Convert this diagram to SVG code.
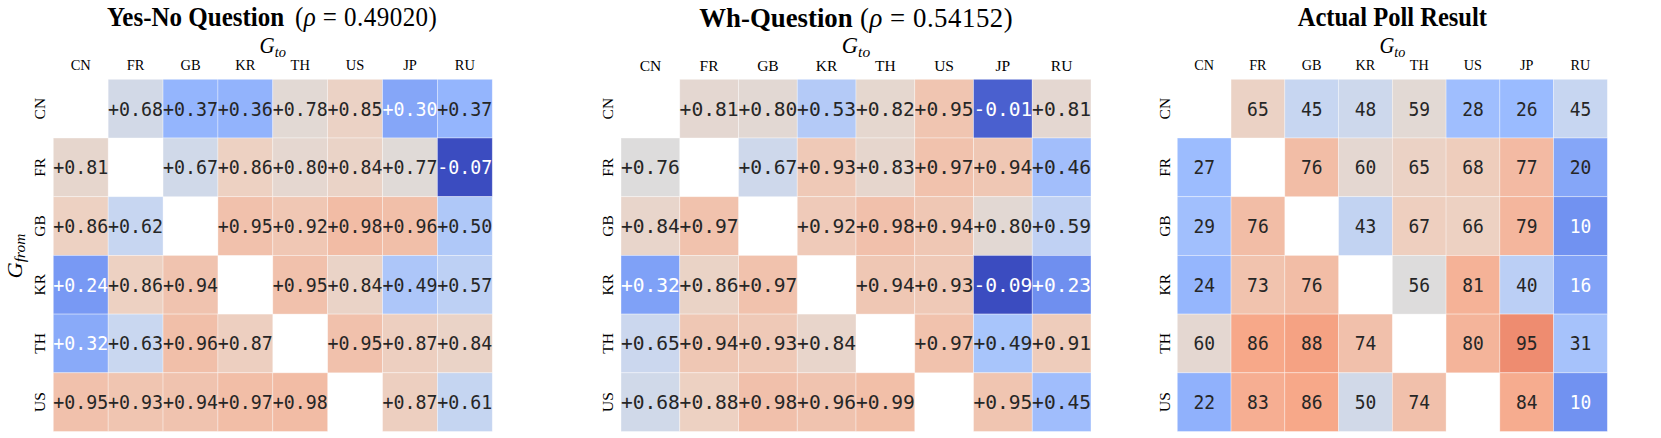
<svg xmlns="http://www.w3.org/2000/svg" width="1661" height="438" viewBox="0 0 1661 438">
<style>
.bg{fill:#fff}
rect.c{stroke:#fff;stroke-width:0.8;stroke-opacity:0.45}
.v{font-family:"DejaVu Sans Mono",monospace;font-size:19.6px;fill:#262626;text-anchor:middle}
.w{fill:#fff}
.lab{font-family:"Liberation Serif","Times New Roman",serif;font-size:15.5px;text-anchor:middle;fill:#000}
.title{font-family:"Liberation Serif","Times New Roman",serif;font-weight:bold;font-size:26.8px;fill:#000}
.math{font-family:"Liberation Serif","Times New Roman",serif;font-size:26.8px;fill:#000}
.ax{font-family:"Liberation Serif","Times New Roman",serif;font-style:italic;font-size:22.5px;text-anchor:middle;fill:#000}
.sub{font-size:15.5px}
</style>
<rect class="bg" x="0" y="0" width="1661" height="438"/>

<!-- Panel 1 -->
<g id="panel-yesno" transform="translate(53.3,0) scale(0.934,1)">
<text class="title" x="57.5" y="26.5">Yes-No Question</text>
<text class="math" x="258.7" y="26.5" textLength="152" lengthAdjust="spacing">(<tspan font-style="italic">ρ</tspan> = 0.49020)</text>
<text class="ax" x="235" y="53.3">G<tspan class="sub" dy="3.5">to</tspan></text>
<text class="ax" transform="translate(-33.5,256) rotate(-90)">G<tspan class="sub" dy="3.5">from</tspan></text>
<g id="p1-collabels">
<text class="lab" x="29.4" y="70.5">CN</text><text class="lab" x="88.1" y="70.5">FR</text><text class="lab" x="146.9" y="70.5">GB</text><text class="lab" x="205.6" y="70.5">KR</text><text class="lab" x="264.4" y="70.5">TH</text><text class="lab" x="323.1" y="70.5">US</text><text class="lab" x="381.9" y="70.5">JP</text><text class="lab" x="440.6" y="70.5">RU</text>
</g>
<g id="p1-rowlabels">
<text class="lab" transform="translate(-8.5,108.65) rotate(-90)">CN</text>
<text class="lab" transform="translate(-8.5,167.35) rotate(-90)">FR</text>
<text class="lab" transform="translate(-8.5,226.05) rotate(-90)">GB</text>
<text class="lab" transform="translate(-8.5,284.75) rotate(-90)">KR</text>
<text class="lab" transform="translate(-8.5,343.45) rotate(-90)">TH</text>
<text class="lab" transform="translate(-8.5,402.15) rotate(-90)">US</text>
</g>
<g id="p1-cells">
<rect class="c" x="58.75" y="79.3" width="58.75" height="58.7" fill="#d2d9e7"/>
<rect class="c" x="117.5" y="79.3" width="58.75" height="58.7" fill="#94b5fd"/>
<rect class="c" x="176.25" y="79.3" width="58.75" height="58.7" fill="#92b3fc"/>
<rect class="c" x="235" y="79.3" width="58.75" height="58.7" fill="#e2d9d4"/>
<rect class="c" x="293.75" y="79.3" width="58.75" height="58.7" fill="#ebd2c5"/>
<rect class="c" x="352.5" y="79.3" width="58.75" height="58.7" fill="#85a6f8"/>
<rect class="c" x="411.25" y="79.3" width="58.75" height="58.7" fill="#94b5fd"/>

<rect class="c" x="0" y="138" width="58.75" height="58.7" fill="#e6d6cd"/>
<rect class="c" x="117.5" y="138" width="58.75" height="58.7" fill="#d0d9e9"/>
<rect class="c" x="176.25" y="138" width="58.75" height="58.7" fill="#edd1c2"/>
<rect class="c" x="235" y="138" width="58.75" height="58.7" fill="#e5d7d0"/>
<rect class="c" x="293.75" y="138" width="58.75" height="58.7" fill="#ead3c7"/>
<rect class="c" x="352.5" y="138" width="58.75" height="58.7" fill="#e0dad7"/>
<rect class="c" x="411.25" y="138" width="58.75" height="58.7" fill="#3b4cc0"/>

<rect class="c" x="0" y="196.7" width="58.75" height="58.7" fill="#edd1c2"/>
<rect class="c" x="58.75" y="196.7" width="58.75" height="58.7" fill="#c7d6f1"/>
<rect class="c" x="176.25" y="196.7" width="58.75" height="58.7" fill="#f1c1ac"/>
<rect class="c" x="235" y="196.7" width="58.75" height="58.7" fill="#f0c7b4"/>
<rect class="c" x="293.75" y="196.7" width="58.75" height="58.7" fill="#f2bca5"/>
<rect class="c" x="352.5" y="196.7" width="58.75" height="58.7" fill="#f1bfa9"/>
<rect class="c" x="411.25" y="196.7" width="58.75" height="58.7" fill="#afc8f8"/>

<rect class="c" x="0" y="255.4" width="58.75" height="58.7" fill="#7899f4"/>
<rect class="c" x="58.75" y="255.4" width="58.75" height="58.7" fill="#edd1c2"/>
<rect class="c" x="117.5" y="255.4" width="58.75" height="58.7" fill="#f0c3af"/>
<rect class="c" x="235" y="255.4" width="58.75" height="58.7" fill="#f1c1ac"/>
<rect class="c" x="293.75" y="255.4" width="58.75" height="58.7" fill="#ead3c7"/>
<rect class="c" x="352.5" y="255.4" width="58.75" height="58.7" fill="#adc6f9"/>
<rect class="c" x="411.25" y="255.4" width="58.75" height="58.7" fill="#bdd0f4"/>

<rect class="c" x="0" y="314.1" width="58.75" height="58.7" fill="#89aaf9"/>
<rect class="c" x="58.75" y="314.1" width="58.75" height="58.7" fill="#c9d7f0"/>
<rect class="c" x="117.5" y="314.1" width="58.75" height="58.7" fill="#f1bfa9"/>
<rect class="c" x="176.25" y="314.1" width="58.75" height="58.7" fill="#edcfc0"/>
<rect class="c" x="293.75" y="314.1" width="58.75" height="58.7" fill="#f1c1ac"/>
<rect class="c" x="352.5" y="314.1" width="58.75" height="58.7" fill="#edcfc0"/>
<rect class="c" x="411.25" y="314.1" width="58.75" height="58.7" fill="#ead3c7"/>

<rect class="c" x="0" y="372.8" width="58.75" height="58.7" fill="#f1c1ac"/>
<rect class="c" x="58.75" y="372.8" width="58.75" height="58.7" fill="#f0c5b1"/>
<rect class="c" x="117.5" y="372.8" width="58.75" height="58.7" fill="#f0c3af"/>
<rect class="c" x="176.25" y="372.8" width="58.75" height="58.7" fill="#f2bea7"/>
<rect class="c" x="235" y="372.8" width="58.75" height="58.7" fill="#f2bca5"/>
<rect class="c" x="352.5" y="372.8" width="58.75" height="58.7" fill="#edcfc0"/>
<rect class="c" x="411.25" y="372.8" width="58.75" height="58.7" fill="#c5d5f1"/>
</g>
<g id="p1-values">
<text class="v" x="88.1" y="115.65">+0.68</text><text class="v" x="146.9" y="115.65">+0.37</text><text class="v" x="205.6" y="115.65">+0.36</text><text class="v" x="264.4" y="115.65">+0.78</text><text class="v" x="323.1" y="115.65">+0.85</text><text class="v w" x="381.9" y="115.65">+0.30</text><text class="v" x="440.6" y="115.65">+0.37</text>
<text class="v" x="29.4" y="174.35">+0.81</text><text class="v" x="146.9" y="174.35">+0.67</text><text class="v" x="205.6" y="174.35">+0.86</text><text class="v" x="264.4" y="174.35">+0.80</text><text class="v" x="323.1" y="174.35">+0.84</text><text class="v" x="381.9" y="174.35">+0.77</text><text class="v w" x="440.6" y="174.35">-0.07</text>
<text class="v" x="29.4" y="233.05">+0.86</text><text class="v" x="88.1" y="233.05">+0.62</text><text class="v" x="205.6" y="233.05">+0.95</text><text class="v" x="264.4" y="233.05">+0.92</text><text class="v" x="323.1" y="233.05">+0.98</text><text class="v" x="381.9" y="233.05">+0.96</text><text class="v" x="440.6" y="233.05">+0.50</text>
<text class="v w" x="29.4" y="291.75">+0.24</text><text class="v" x="88.1" y="291.75">+0.86</text><text class="v" x="146.9" y="291.75">+0.94</text><text class="v" x="264.4" y="291.75">+0.95</text><text class="v" x="323.1" y="291.75">+0.84</text><text class="v" x="381.9" y="291.75">+0.49</text><text class="v" x="440.6" y="291.75">+0.57</text>
<text class="v w" x="29.4" y="350.45">+0.32</text><text class="v" x="88.1" y="350.45">+0.63</text><text class="v" x="146.9" y="350.45">+0.96</text><text class="v" x="205.6" y="350.45">+0.87</text><text class="v" x="323.1" y="350.45">+0.95</text><text class="v" x="381.9" y="350.45">+0.87</text><text class="v" x="440.6" y="350.45">+0.84</text>
<text class="v" x="29.4" y="409.15">+0.95</text><text class="v" x="88.1" y="409.15">+0.93</text><text class="v" x="146.9" y="409.15">+0.94</text><text class="v" x="205.6" y="409.15">+0.97</text><text class="v" x="264.4" y="409.15">+0.98</text><text class="v" x="381.9" y="409.15">+0.87</text><text class="v" x="440.6" y="409.15">+0.61</text>
</g>
</g>

<!-- Panel 2 -->
<g id="panel-wh" transform="translate(621,0)">
<text class="title" x="78.3" y="26.5">Wh-Question</text>
<text class="math" x="239" y="26.5" textLength="152.7" lengthAdjust="spacing">(<tspan font-style="italic">ρ</tspan> = 0.54152)</text>
<text class="ax" x="235" y="53.3">G<tspan class="sub" dy="3.5">to</tspan></text>
<g id="p2-collabels">
<text class="lab" x="29.4" y="70.5">CN</text><text class="lab" x="88.1" y="70.5">FR</text><text class="lab" x="146.9" y="70.5">GB</text><text class="lab" x="205.6" y="70.5">KR</text><text class="lab" x="264.4" y="70.5">TH</text><text class="lab" x="323.1" y="70.5">US</text><text class="lab" x="381.9" y="70.5">JP</text><text class="lab" x="440.6" y="70.5">RU</text>
</g>
<g id="p2-rowlabels">
<text class="lab" transform="translate(-8.5,108.65) rotate(-90)">CN</text>
<text class="lab" transform="translate(-8.5,167.35) rotate(-90)">FR</text>
<text class="lab" transform="translate(-8.5,226.05) rotate(-90)">GB</text>
<text class="lab" transform="translate(-8.5,284.75) rotate(-90)">KR</text>
<text class="lab" transform="translate(-8.5,343.45) rotate(-90)">TH</text>
<text class="lab" transform="translate(-8.5,402.15) rotate(-90)">US</text>
</g>
<g id="p2-cells">
<rect class="c" x="58.75" y="79.3" width="58.75" height="58.7" fill="#e4d7d1"/>
<rect class="c" x="117.5" y="79.3" width="58.75" height="58.7" fill="#e2d8d3"/>
<rect class="c" x="176.25" y="79.3" width="58.75" height="58.7" fill="#b4caf7"/>
<rect class="c" x="235" y="79.3" width="58.75" height="58.7" fill="#e5d7cf"/>
<rect class="c" x="293.75" y="79.3" width="58.75" height="58.7" fill="#f0c5b1"/>
<rect class="c" x="352.5" y="79.3" width="58.75" height="58.7" fill="#4a60cf"/>
<rect class="c" x="411.25" y="79.3" width="58.75" height="58.7" fill="#e4d7d1"/>

<rect class="c" x="0" y="138" width="58.75" height="58.7" fill="#dddcdc"/>
<rect class="c" x="117.5" y="138" width="58.75" height="58.7" fill="#ced8eb"/>
<rect class="c" x="176.25" y="138" width="58.75" height="58.7" fill="#efc9b7"/>
<rect class="c" x="235" y="138" width="58.75" height="58.7" fill="#e6d6cd"/>
<rect class="c" x="293.75" y="138" width="58.75" height="58.7" fill="#f1c2ad"/>
<rect class="c" x="352.5" y="138" width="58.75" height="58.7" fill="#efc7b4"/>
<rect class="c" x="411.25" y="138" width="58.75" height="58.7" fill="#a2befb"/>

<rect class="c" x="0" y="196.7" width="58.75" height="58.7" fill="#e8d5cb"/>
<rect class="c" x="58.75" y="196.7" width="58.75" height="58.7" fill="#f1c2ad"/>
<rect class="c" x="176.25" y="196.7" width="58.75" height="58.7" fill="#efcab9"/>
<rect class="c" x="235" y="196.7" width="58.75" height="58.7" fill="#f1c0ab"/>
<rect class="c" x="293.75" y="196.7" width="58.75" height="58.7" fill="#efc7b4"/>
<rect class="c" x="352.5" y="196.7" width="58.75" height="58.7" fill="#e2d8d3"/>
<rect class="c" x="411.25" y="196.7" width="58.75" height="58.7" fill="#c0d1f3"/>

<rect class="c" x="0" y="255.4" width="58.75" height="58.7" fill="#7fa1f7"/>
<rect class="c" x="58.75" y="255.4" width="58.75" height="58.7" fill="#ead3c6"/>
<rect class="c" x="117.5" y="255.4" width="58.75" height="58.7" fill="#f1c2ad"/>
<rect class="c" x="235" y="255.4" width="58.75" height="58.7" fill="#efc7b4"/>
<rect class="c" x="293.75" y="255.4" width="58.75" height="58.7" fill="#efc9b7"/>
<rect class="c" x="352.5" y="255.4" width="58.75" height="58.7" fill="#3b4cc0"/>
<rect class="c" x="411.25" y="255.4" width="58.75" height="58.7" fill="#6f8fef"/>

<rect class="c" x="0" y="314.1" width="58.75" height="58.7" fill="#cbd7ee"/>
<rect class="c" x="58.75" y="314.1" width="58.75" height="58.7" fill="#efc7b4"/>
<rect class="c" x="117.5" y="314.1" width="58.75" height="58.7" fill="#efc9b7"/>
<rect class="c" x="176.25" y="314.1" width="58.75" height="58.7" fill="#e8d5cb"/>
<rect class="c" x="293.75" y="314.1" width="58.75" height="58.7" fill="#f1c2ad"/>
<rect class="c" x="352.5" y="314.1" width="58.75" height="58.7" fill="#a8c5fb"/>
<rect class="c" x="411.25" y="314.1" width="58.75" height="58.7" fill="#eeccbb"/>

<rect class="c" x="0" y="372.8" width="58.75" height="58.7" fill="#d0d9e9"/>
<rect class="c" x="58.75" y="372.8" width="58.75" height="58.7" fill="#edd1c2"/>
<rect class="c" x="117.5" y="372.8" width="58.75" height="58.7" fill="#f1c0ab"/>
<rect class="c" x="176.25" y="372.8" width="58.75" height="58.7" fill="#f0c3af"/>
<rect class="c" x="235" y="372.8" width="58.75" height="58.7" fill="#f2bfa8"/>
<rect class="c" x="352.5" y="372.8" width="58.75" height="58.7" fill="#f0c5b1"/>
<rect class="c" x="411.25" y="372.8" width="58.75" height="58.7" fill="#a0bdfc"/>
</g>
<g id="p2-values">
<text class="v" x="88.1" y="115.65">+0.81</text><text class="v" x="146.9" y="115.65">+0.80</text><text class="v" x="205.6" y="115.65">+0.53</text><text class="v" x="264.4" y="115.65">+0.82</text><text class="v" x="323.1" y="115.65">+0.95</text><text class="v w" x="381.9" y="115.65">-0.01</text><text class="v" x="440.6" y="115.65">+0.81</text>
<text class="v" x="29.4" y="174.35">+0.76</text><text class="v" x="146.9" y="174.35">+0.67</text><text class="v" x="205.6" y="174.35">+0.93</text><text class="v" x="264.4" y="174.35">+0.83</text><text class="v" x="323.1" y="174.35">+0.97</text><text class="v" x="381.9" y="174.35">+0.94</text><text class="v" x="440.6" y="174.35">+0.46</text>
<text class="v" x="29.4" y="233.05">+0.84</text><text class="v" x="88.1" y="233.05">+0.97</text><text class="v" x="205.6" y="233.05">+0.92</text><text class="v" x="264.4" y="233.05">+0.98</text><text class="v" x="323.1" y="233.05">+0.94</text><text class="v" x="381.9" y="233.05">+0.80</text><text class="v" x="440.6" y="233.05">+0.59</text>
<text class="v w" x="29.4" y="291.75">+0.32</text><text class="v" x="88.1" y="291.75">+0.86</text><text class="v" x="146.9" y="291.75">+0.97</text><text class="v" x="264.4" y="291.75">+0.94</text><text class="v" x="323.1" y="291.75">+0.93</text><text class="v w" x="381.9" y="291.75">-0.09</text><text class="v w" x="440.6" y="291.75">+0.23</text>
<text class="v" x="29.4" y="350.45">+0.65</text><text class="v" x="88.1" y="350.45">+0.94</text><text class="v" x="146.9" y="350.45">+0.93</text><text class="v" x="205.6" y="350.45">+0.84</text><text class="v" x="323.1" y="350.45">+0.97</text><text class="v" x="381.9" y="350.45">+0.49</text><text class="v" x="440.6" y="350.45">+0.91</text>
<text class="v" x="29.4" y="409.15">+0.68</text><text class="v" x="88.1" y="409.15">+0.88</text><text class="v" x="146.9" y="409.15">+0.98</text><text class="v" x="205.6" y="409.15">+0.96</text><text class="v" x="264.4" y="409.15">+0.99</text><text class="v" x="381.9" y="409.15">+0.95</text><text class="v" x="440.6" y="409.15">+0.45</text>
</g>
</g>

<!-- Panel 3 -->
<g id="panel-poll" transform="translate(1177.3,0) scale(0.915,1)">
<text class="title" x="235" y="26.5" text-anchor="middle">Actual Poll Result</text>
<text class="ax" x="235" y="53.3">G<tspan class="sub" dy="3.5">to</tspan></text>
<g id="p3-collabels">
<text class="lab" x="29.4" y="70.5">CN</text><text class="lab" x="88.1" y="70.5">FR</text><text class="lab" x="146.9" y="70.5">GB</text><text class="lab" x="205.6" y="70.5">KR</text><text class="lab" x="264.4" y="70.5">TH</text><text class="lab" x="323.1" y="70.5">US</text><text class="lab" x="381.9" y="70.5">JP</text><text class="lab" x="440.6" y="70.5">RU</text>
</g>
<g id="p3-rowlabels">
<text class="lab" transform="translate(-8.5,108.65) rotate(-90)">CN</text>
<text class="lab" transform="translate(-8.5,167.35) rotate(-90)">FR</text>
<text class="lab" transform="translate(-8.5,226.05) rotate(-90)">GB</text>
<text class="lab" transform="translate(-8.5,284.75) rotate(-90)">KR</text>
<text class="lab" transform="translate(-8.5,343.45) rotate(-90)">TH</text>
<text class="lab" transform="translate(-8.5,402.15) rotate(-90)">US</text>
</g>
<g id="p3-cells">
<rect class="c" x="58.75" y="79.3" width="58.75" height="58.7" fill="#ebd2c5"/>
<rect class="c" x="117.5" y="79.3" width="58.75" height="58.7" fill="#c7d6f1"/>
<rect class="c" x="176.25" y="79.3" width="58.75" height="58.7" fill="#cdd8ec"/>
<rect class="c" x="235" y="79.3" width="58.75" height="58.7" fill="#e2d9d4"/>
<rect class="c" x="293.75" y="79.3" width="58.75" height="58.7" fill="#9fbefe"/>
<rect class="c" x="352.5" y="79.3" width="58.75" height="58.7" fill="#9abbff"/>
<rect class="c" x="411.25" y="79.3" width="58.75" height="58.7" fill="#c7d6f1"/>

<rect class="c" x="0" y="138" width="58.75" height="58.7" fill="#9cbcfe"/>
<rect class="c" x="117.5" y="138" width="58.75" height="58.7" fill="#f2bda6"/>
<rect class="c" x="176.25" y="138" width="58.75" height="58.7" fill="#e4d7d1"/>
<rect class="c" x="235" y="138" width="58.75" height="58.7" fill="#ebd2c5"/>
<rect class="c" x="293.75" y="138" width="58.75" height="58.7" fill="#eecdbc"/>
<rect class="c" x="352.5" y="138" width="58.75" height="58.7" fill="#f3baa3"/>
<rect class="c" x="411.25" y="138" width="58.75" height="58.7" fill="#85a6f8"/>

<rect class="c" x="0" y="196.7" width="58.75" height="58.7" fill="#a1bffd"/>
<rect class="c" x="58.75" y="196.7" width="58.75" height="58.7" fill="#f2bda6"/>
<rect class="c" x="176.25" y="196.7" width="58.75" height="58.7" fill="#c2d3f2"/>
<rect class="c" x="235" y="196.7" width="58.75" height="58.7" fill="#eecfbf"/>
<rect class="c" x="293.75" y="196.7" width="58.75" height="58.7" fill="#edd1c2"/>
<rect class="c" x="352.5" y="196.7" width="58.75" height="58.7" fill="#f4b69d"/>
<rect class="c" x="411.25" y="196.7" width="58.75" height="58.7" fill="#7192f1"/>

<rect class="c" x="0" y="255.4" width="58.75" height="58.7" fill="#95b6fd"/>
<rect class="c" x="58.75" y="255.4" width="58.75" height="58.7" fill="#f1c3ae"/>
<rect class="c" x="117.5" y="255.4" width="58.75" height="58.7" fill="#f2bda6"/>
<rect class="c" x="235" y="255.4" width="58.75" height="58.7" fill="#dddcdc"/>
<rect class="c" x="293.75" y="255.4" width="58.75" height="58.7" fill="#f5b297"/>
<rect class="c" x="352.5" y="255.4" width="58.75" height="58.7" fill="#bbcff5"/>
<rect class="c" x="411.25" y="255.4" width="58.75" height="58.7" fill="#81a2f7"/>

<rect class="c" x="0" y="314.1" width="58.75" height="58.7" fill="#e4d7d1"/>
<rect class="c" x="58.75" y="314.1" width="58.75" height="58.7" fill="#f7a889"/>
<rect class="c" x="117.5" y="314.1" width="58.75" height="58.7" fill="#f5a283"/>
<rect class="c" x="176.25" y="314.1" width="58.75" height="58.7" fill="#f1c0ab"/>
<rect class="c" x="293.75" y="314.1" width="58.75" height="58.7" fill="#f4b49a"/>
<rect class="c" x="352.5" y="314.1" width="58.75" height="58.7" fill="#ee8c70"/>
<rect class="c" x="411.25" y="314.1" width="58.75" height="58.7" fill="#a6c2fb"/>

<rect class="c" x="0" y="372.8" width="58.75" height="58.7" fill="#90b1fc"/>
<rect class="c" x="58.75" y="372.8" width="58.75" height="58.7" fill="#f6ae92"/>
<rect class="c" x="117.5" y="372.8" width="58.75" height="58.7" fill="#f7a889"/>
<rect class="c" x="176.25" y="372.8" width="58.75" height="58.7" fill="#d1d9e8"/>
<rect class="c" x="235" y="372.8" width="58.75" height="58.7" fill="#f1c0ab"/>
<rect class="c" x="352.5" y="372.8" width="58.75" height="58.7" fill="#f6ac8f"/>
<rect class="c" x="411.25" y="372.8" width="58.75" height="58.7" fill="#7192f1"/>
</g>
<g id="p3-values">
<text class="v" x="88.1" y="115.65">65</text><text class="v" x="146.9" y="115.65">45</text><text class="v" x="205.6" y="115.65">48</text><text class="v" x="264.4" y="115.65">59</text><text class="v" x="323.1" y="115.65">28</text><text class="v" x="381.9" y="115.65">26</text><text class="v" x="440.6" y="115.65">45</text>
<text class="v" x="29.4" y="174.35">27</text><text class="v" x="146.9" y="174.35">76</text><text class="v" x="205.6" y="174.35">60</text><text class="v" x="264.4" y="174.35">65</text><text class="v" x="323.1" y="174.35">68</text><text class="v" x="381.9" y="174.35">77</text><text class="v" x="440.6" y="174.35">20</text>
<text class="v" x="29.4" y="233.05">29</text><text class="v" x="88.1" y="233.05">76</text><text class="v" x="205.6" y="233.05">43</text><text class="v" x="264.4" y="233.05">67</text><text class="v" x="323.1" y="233.05">66</text><text class="v" x="381.9" y="233.05">79</text><text class="v w" x="440.6" y="233.05">10</text>
<text class="v" x="29.4" y="291.75">24</text><text class="v" x="88.1" y="291.75">73</text><text class="v" x="146.9" y="291.75">76</text><text class="v" x="264.4" y="291.75">56</text><text class="v" x="323.1" y="291.75">81</text><text class="v" x="381.9" y="291.75">40</text><text class="v w" x="440.6" y="291.75">16</text>
<text class="v" x="29.4" y="350.45">60</text><text class="v" x="88.1" y="350.45">86</text><text class="v" x="146.9" y="350.45">88</text><text class="v" x="205.6" y="350.45">74</text><text class="v" x="323.1" y="350.45">80</text><text class="v" x="381.9" y="350.45">95</text><text class="v" x="440.6" y="350.45">31</text>
<text class="v" x="29.4" y="409.15">22</text><text class="v" x="88.1" y="409.15">83</text><text class="v" x="146.9" y="409.15">86</text><text class="v" x="205.6" y="409.15">50</text><text class="v" x="264.4" y="409.15">74</text><text class="v" x="381.9" y="409.15">84</text><text class="v w" x="440.6" y="409.15">10</text>
</g>
</g>
</svg>
